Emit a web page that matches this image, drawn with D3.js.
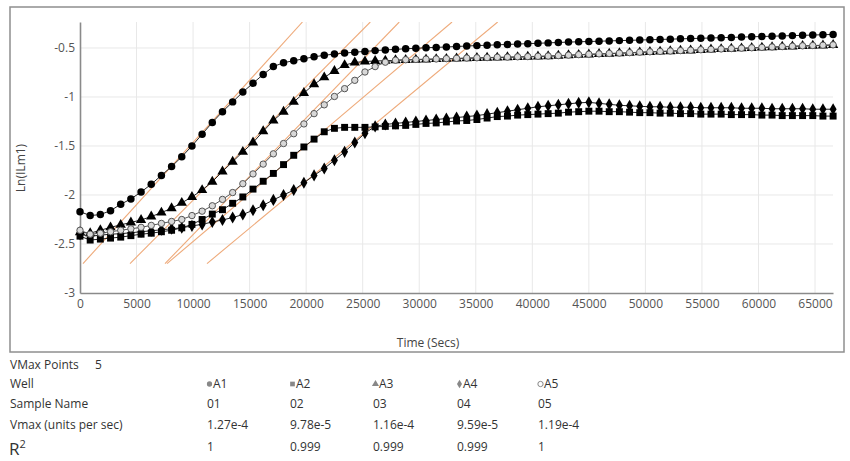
<!DOCTYPE html>
<html>
<head>
<meta charset="utf-8">
<script src="https://cdn.jsdelivr.net/npm/d3@7"></script>
<style>
  body { margin: 0; background: #fff; }
  text { font-family: "Open Sans", "Noto Sans", sans-serif; }
</style>
</head>
<body>
<div id="chart"></div>
<script>
/* CONSTANTS AND GLOBALS */
const width = 850,
  height = 461,
  plot = { left: 80, right: 833, top: 22, bottom: 293 };

/* DATA */
// read times in seconds (one reading every 900 s)
const timeSecs = [0, 900, 1800, 2700, 3600, 4500, 5400, 6300, 7200, 8100, 9000, 9900, 10800, 11700, 12600,
  13500, 14400, 15300, 16200, 17100, 18000, 18900, 19800, 20700, 21600, 22500, 23400, 24300, 25200, 26100,
  27000, 27900, 28800, 29700, 30600, 31500, 32400, 33300, 34200, 35100, 36000, 36900, 37800, 38700, 39600,
  40500, 41400, 42300, 43200, 44100, 45000, 45900, 46800, 47700, 48600, 49500, 50400, 51300, 52200, 53100,
  54000, 54900, 55800, 56700, 57600, 58500, 59400, 60300, 61200, 62100, 63000, 63900, 64800, 65700, 66600];

const wellA1 = [-2.17, -2.21, -2.20, -2.16, -2.095, -2.04, -1.97, -1.89, -1.80, -1.71, -1.61, -1.50, -1.38, -1.26, -1.15,
  -1.05, -0.95, -0.86, -0.77, -0.69, -0.65, -0.63, -0.61, -0.59, -0.575, -0.562, -0.552, -0.543, -0.535, -0.527,
  -0.52, -0.514, -0.508, -0.503, -0.498, -0.494, -0.49, -0.485, -0.48, -0.476, -0.472, -0.468, -0.464, -0.46, -0.456,
  -0.452, -0.448, -0.444, -0.44, -0.437, -0.434, -0.431, -0.428, -0.425, -0.422, -0.419, -0.416, -0.413, -0.41, -0.407,
  -0.404, -0.401, -0.398, -0.395, -0.392, -0.389, -0.386, -0.383, -0.38, -0.377, -0.374, -0.371, -0.368, -0.365, -0.362];

const wellA2 = [-2.42, -2.46, -2.45, -2.44, -2.43, -2.415, -2.40, -2.39, -2.375, -2.36, -2.335, -2.30, -2.25, -2.195, -2.15,
  -2.085, -2.02, -1.94, -1.86, -1.78, -1.69, -1.595, -1.51, -1.43, -1.355, -1.32, -1.31, -1.31, -1.31, -1.305,
  -1.30, -1.295, -1.29, -1.28, -1.27, -1.265, -1.255, -1.245, -1.24, -1.23, -1.215, -1.20, -1.195, -1.185, -1.18,
  -1.175, -1.17, -1.165, -1.155, -1.15, -1.145, -1.145, -1.15, -1.15, -1.155, -1.16, -1.16, -1.165, -1.165, -1.17,
  -1.17, -1.175, -1.175, -1.175, -1.18, -1.18, -1.18, -1.185, -1.185, -1.19, -1.19, -1.19, -1.19, -1.195, -1.195];

const wellA3 = [-2.38, -2.39, -2.36, -2.33, -2.305, -2.28, -2.255, -2.22, -2.18, -2.135, -2.08, -2.02, -1.95, -1.865, -1.76,
  -1.66, -1.56, -1.465, -1.35, -1.24, -1.15, -1.05, -0.96, -0.87, -0.80, -0.735, -0.675, -0.648, -0.638, -0.633,
  -0.63, -0.626, -0.622, -0.62, -0.617, -0.614, -0.611, -0.608, -0.605, -0.603, -0.60, -0.598, -0.595, -0.593, -0.59,
  -0.587, -0.584, -0.58, -0.575, -0.57, -0.566, -0.562, -0.558, -0.554, -0.55, -0.545, -0.541, -0.537, -0.533, -0.529,
  -0.525, -0.52, -0.516, -0.512, -0.508, -0.504, -0.50, -0.496, -0.492, -0.488, -0.484, -0.48, -0.477, -0.474, -0.47];

const wellA4 = [-2.40, -2.42, -2.41, -2.40, -2.395, -2.385, -2.375, -2.365, -2.355, -2.345, -2.335, -2.315, -2.30, -2.275, -2.255,
  -2.23, -2.20, -2.155, -2.105, -2.05, -2.00, -1.95, -1.875, -1.80, -1.73, -1.645, -1.56, -1.465, -1.37, -1.30,
  -1.28, -1.27, -1.26, -1.25, -1.24, -1.23, -1.22, -1.21, -1.20, -1.19, -1.175, -1.16, -1.145, -1.13, -1.115,
  -1.10, -1.09, -1.08, -1.07, -1.06, -1.055, -1.065, -1.075, -1.085, -1.09, -1.095, -1.10, -1.10, -1.105, -1.105,
  -1.105, -1.11, -1.11, -1.11, -1.11, -1.115, -1.115, -1.115, -1.12, -1.12, -1.12, -1.12, -1.125, -1.125, -1.125];

const wellA5 = [-2.36, -2.40, -2.39, -2.375, -2.36, -2.345, -2.33, -2.31, -2.29, -2.27, -2.25, -2.21, -2.165, -2.11, -2.045,
  -1.975, -1.885, -1.785, -1.685, -1.58, -1.475, -1.375, -1.275, -1.17, -1.08, -0.995, -0.915, -0.83, -0.745, -0.69,
  -0.645, -0.625, -0.62, -0.617, -0.614, -0.612, -0.609, -0.606, -0.603, -0.60, -0.598, -0.595, -0.593, -0.59, -0.588,
  -0.585, -0.582, -0.578, -0.573, -0.568, -0.564, -0.56, -0.556, -0.552, -0.548, -0.543, -0.539, -0.535, -0.531, -0.527,
  -0.523, -0.518, -0.514, -0.51, -0.506, -0.502, -0.498, -0.494, -0.49, -0.486, -0.482, -0.478, -0.475, -0.472, -0.468];

const wells = ["A1", "A2", "A3", "A4", "A5"];
const sampleNames = ["01", "02", "03", "04", "05"];
const vmaxValues = [1.27e-4, 9.78e-5, 1.16e-4, 9.59e-5, 1.19e-4];
const vmaxLabels = ["1.27e-4", "9.78e-5", "1.16e-4", "9.59e-5", "1.19e-4"];
const rSquared = ["1", "0.999", "0.999", "0.999", "1"];
// time (s) where each Vmax fit line sits at Ln = -2.7
const fitStartSecs = [265, 7694, 4422, 11231, 7517];
const fitStartLn = -2.7;
const vmaxPoints = 5;

const xTickValues = [0, 5000, 10000, 15000, 20000, 25000, 30000, 35000, 40000, 45000, 50000, 55000, 60000, 65000];
const yTickValues = [-3, -2.5, -2, -1.5, -1, -0.5];

const seriesValues = [wellA1, wellA2, wellA3, wellA4, wellA5];
const symbolTypes = [d3.symbolCircle, d3.symbolSquare, d3.symbolTriangle, d3.symbolDiamond, d3.symbolCircle];
const symbolSizes = [44, 48, 46, 42, 32];

/* SCALES */
const xScale = d3.scaleLinear().domain([0, 66590]).range([plot.left, plot.right]);
const yScale = d3.scaleLinear().domain([-3, -0.235]).range([plot.bottom, plot.top]);

const svg = d3.select("#chart")
  .append("svg")
  .attr("width", width)
  .attr("height", height);

svg.append("rect").attr("width", width).attr("height", height).attr("fill", "#fff");

// outer frame
svg.append("rect")
  .attr("x", 10).attr("y", 7)
  .attr("width", 834).attr("height", 345)
  .attr("fill", "none")
  .attr("stroke", "#8f8f8f")
  .attr("stroke-width", 1.5);

svg.append("clipPath").attr("id", "plotClip")
  .append("rect")
  .attr("x", plot.left).attr("y", plot.top)
  .attr("width", plot.right - plot.left).attr("height", plot.bottom - plot.top);

// grid
svg.append("g").selectAll("line")
  .data(xTickValues.filter(d => d > 0))
  .join("line")
  .attr("x1", d => xScale(d)).attr("x2", d => xScale(d))
  .attr("y1", plot.top).attr("y2", plot.bottom)
  .attr("stroke", "#e8e8e8");

svg.append("g").selectAll("line")
  .data(yTickValues.filter(d => d > -3))
  .join("line")
  .attr("x1", plot.left).attr("x2", plot.right)
  .attr("y1", d => yScale(d)).attr("y2", d => yScale(d))
  .attr("stroke", "#e8e8e8");

/* AXES */
const xAxis = d3.axisBottom(xScale).tickValues(xTickValues).tickSize(0).tickPadding(6).tickFormat(d => String(d));
const yAxis = d3.axisLeft(yScale).tickValues(yTickValues).tickSize(0).tickPadding(5).tickFormat(d => String(d));

const xAxisGroup = svg.append("g")
  .attr("transform", `translate(0, ${plot.bottom})`)
  .call(xAxis);
const yAxisGroup = svg.append("g")
  .attr("transform", `translate(${plot.left}, 0)`)
  .call(yAxis);

[xAxisGroup, yAxisGroup].forEach(g => {
  g.select(".domain").attr("stroke", "#8a8a8a").attr("stroke-width", 1.6);
  g.selectAll("text").attr("fill", "#555").attr("font-size", 12)
    .attr("font-family", "'Liberation Sans', Arial, sans-serif");
});

svg.append("text")
  .attr("x", 428).attr("y", 347)
  .attr("text-anchor", "middle")
  .attr("font-size", 12)
  .attr("fill", "#444")
  .attr("font-family", "'Liberation Sans', Arial, sans-serif")
  .text("Time (Secs)");

svg.append("text")
  .attr("transform", `translate(25, 168) rotate(-90)`)
  .attr("text-anchor", "middle")
  .attr("font-size", 12)
  .attr("fill", "#444")
  .attr("font-family", "'Liberation Sans', Arial, sans-serif")
  .text("Ln(ILm1)");

/* VMAX FIT LINES */
const yTop = yScale.domain()[1];
svg.append("g")
  .attr("clip-path", "url(#plotClip)")
  .selectAll("line")
  .data(vmaxValues.map((v, i) => ({ v, t0: fitStartSecs[i] })))
  .join("line")
  .attr("x1", d => xScale(d.t0))
  .attr("y1", yScale(fitStartLn))
  .attr("x2", d => xScale(d.t0 + (yTop - fitStartLn) / d.v))
  .attr("y2", yScale(yTop))
  .attr("stroke", "#eeaa7a")
  .attr("stroke-width", 1.1);

/* SERIES */
const lineGen = d3.line()
  .x((d, i) => xScale(timeSecs[i]))
  .y(d => yScale(d));

const seriesGroups = svg.append("g")
  .selectAll("g")
  .data(seriesValues)
  .join("g");

seriesGroups.append("path")
  .attr("d", d => lineGen(d))
  .attr("fill", "none")
  .attr("stroke", (d, i) => i === 4 ? "#555" : "#222")
  .attr("stroke-width", 1);

seriesGroups.each(function (vals, s) {
  d3.select(this).selectAll("path.pt")
    .data(vals)
    .join("path")
    .attr("class", "pt")
    .attr("transform", (d, i) => `translate(${xScale(timeSecs[i])}, ${yScale(d)})`)
    .attr("d", d3.symbol().type(symbolTypes[s]).size(symbolSizes[s]))
    .attr("fill", s === 4 ? "#d8d8d8" : "#000")
    .attr("stroke", s === 4 ? "#555" : "none")
    .attr("stroke-width", 1);
});

/* RESULTS TABLE */
const colX = [207, 290, 373, 457, 538];
const tbl = svg.append("g").attr("font-size", 12).attr("fill", "#333");

tbl.append("text").attr("x", 10).attr("y", 369).text("VMax Points");
tbl.append("text").attr("x", 95).attr("y", 369).text(vmaxPoints);
tbl.append("text").attr("x", 10).attr("y", 388).text("Well");
tbl.append("text").attr("x", 10).attr("y", 408).text("Sample Name");
tbl.append("text").attr("x", 10).attr("y", 429).text("Vmax (units per sec)");
const r2 = tbl.append("text").attr("x", 9).attr("y", 455).attr("font-size", 17);
r2.append("tspan").text("R");
r2.append("tspan").attr("font-size", 11).attr("dy", -7).text("2");

wells.forEach((w, i) => {
  tbl.append("path")
    .attr("transform", `translate(${colX[i] + 2.5}, 384)`)
    .attr("d", d3.symbol().type(symbolTypes[i]).size(22)())
    .attr("fill", i === 4 ? "#fff" : "#888")
    .attr("stroke", i === 4 ? "#888" : "none");
  tbl.append("text").attr("x", colX[i] + 6).attr("y", 388).text(w);
  tbl.append("text").attr("x", colX[i]).attr("y", 408).text(sampleNames[i]);
  tbl.append("text").attr("x", colX[i]).attr("y", 429).text(vmaxLabels[i]);
  tbl.append("text").attr("x", colX[i]).attr("y", 451).text(rSquared[i]);
});
</script>
</body>
</html>
